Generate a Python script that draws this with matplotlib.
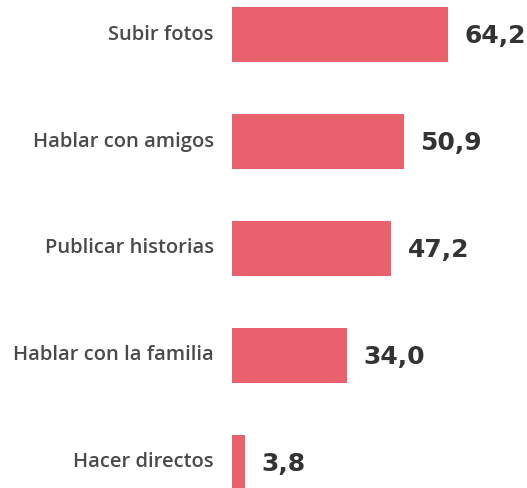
import matplotlib
matplotlib.use("Agg")
import matplotlib.pyplot as plt

categories = ["Subir fotos", "Hablar con amigos", "Publicar historias",
              "Hablar con la familia", "Hacer directos"]
values = [64.2, 50.9, 47.2, 34.0, 3.8]
value_labels = ["64,2", "50,9", "47,2", "34,0", "3,8"]

W, H = 527, 488
fig = plt.figure(figsize=(W / 100, H / 100), dpi=100)
left_px = 232
ax = fig.add_axes([left_px / W, 0, 1 - left_px / W, 1])

px_per_unit = 3.371
ax.set_xlim(0, (W - left_px) / px_per_unit)
row_px = 107
first_center = 34.5
ax.set_ylim((H - first_center) / row_px, -first_center / row_px)

ypos = list(range(len(categories)))
ax.barh(ypos, values, height=55 / row_px, color="#E8616D")

pt = 0.72  # points per pixel at 100 dpi
for y, v, lab, cat in zip(ypos, values, value_labels, categories):
    ax.annotate(lab, xy=(v, y), xytext=(16.5 * pt, -1.5 * pt), textcoords="offset points",
                ha="left", va="center", fontsize=18, fontweight="bold",
                color="#333333", family="DejaVu Sans")
    ax.annotate(cat, xy=(0, y), xytext=(-18 * pt, 0), textcoords="offset points",
                ha="right", va="center", fontsize=14.5, fontweight="semibold",
                color="#4a4a4a", family="Open Sans", annotation_clip=False)

ax.axis("off")
fig.savefig("out.png", dpi=100)
